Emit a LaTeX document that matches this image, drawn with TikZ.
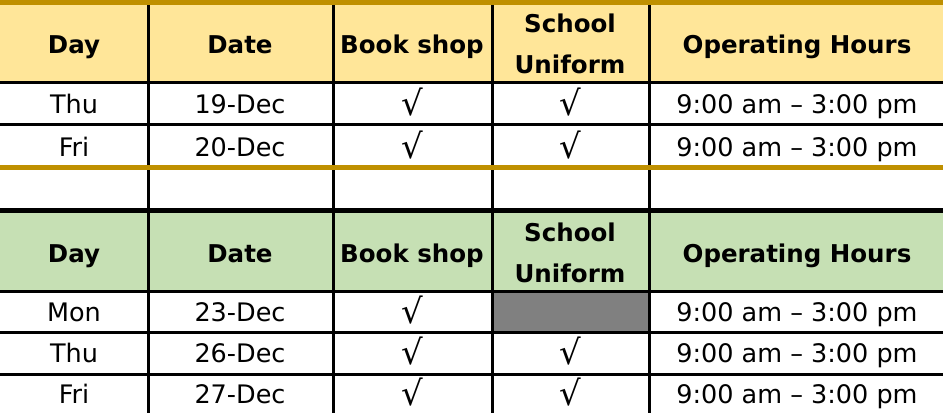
\documentclass[tikz,border=0pt]{standalone}
\usepackage{fontspec}
\setmainfont{DejaVu Sans}
\definecolor{headyellow}{HTML}{FFE699}
\definecolor{headgreen}{HTML}{C6E0B4}
\definecolor{goldline}{HTML}{BF9000}
\definecolor{cellgray}{HTML}{808080}
\tikzset{
  cell/.style={font=\fontsize{25.5}{28}\selectfont, inner sep=0pt, anchor=base},
  tick/.style={font=\fontsize{34}{36}\selectfont, inner sep=0pt, anchor=base},
  head/.style={font=\fontsize{24.5}{41}\selectfont\bfseries, inner sep=0pt, align=center},
  grid/.style={line width=3pt},
  goldrule/.style={goldline, line width=5pt}
}
\begin{document}
\begin{tikzpicture}[x=1pt,y=-1pt]
\useasboundingbox (0,0) rectangle (943,413);
% fills
\fill[headyellow] (0,0) rectangle (943,82);
\fill[headgreen] (0,210) rectangle (943,291);
\fill[cellgray] (492,291) rectangle (649,332);
% rules
\foreach \x in {148,333,492,649} \draw[grid] (\x,0)--(\x,413);
\foreach \y in {82,124,291,332,374} \draw[grid] (0,\y)--(943,\y);
\draw[line width=5pt] (0,210)--(943,210);
\draw[goldrule] (0,2.5)--(943,2.5);
\draw[goldrule] (0,167.5)--(943,167.5);
% headers
\foreach \hy/\t in {0/a,209/b}{
  \node[head,anchor=base] (day\t) at (74,\hy+53) {Day};
  \node[head,anchor=base] (date\t) at (240,\hy+53) {Date};
  \node[head,anchor=base] (book\t) at (412,\hy+53) {Book shop};
  \node[head] (uni\t) at (570,\hy+44) {School\\Uniform};
  \node[head,anchor=base] (hrs\t) at (797,\hy+53) {Operating Hours};
}
% rows
\foreach \y/\d/\dt/\n in {113/Thu/19-Dec/1,156/Fri/20-Dec/2,321/Mon/23-Dec/3,362/Thu/26-Dec/4,403/Fri/27-Dec/5}{
  \node[cell] (rday\n) at (74,\y) {\d};
  \node[cell] (rdate\n) at (240,\y) {\dt};
  \node[tick] (rbook\n) at (412,\y+2) {√};
  \node[cell] (rhrs\n) at (797,\y) {9:00 am – 3:00 pm};
}
\foreach \y/\n in {113/1,156/2,362/4,403/5}
  \node[tick] (runi\n) at (570,\y+2) {√};
\end{tikzpicture}
\end{document}
